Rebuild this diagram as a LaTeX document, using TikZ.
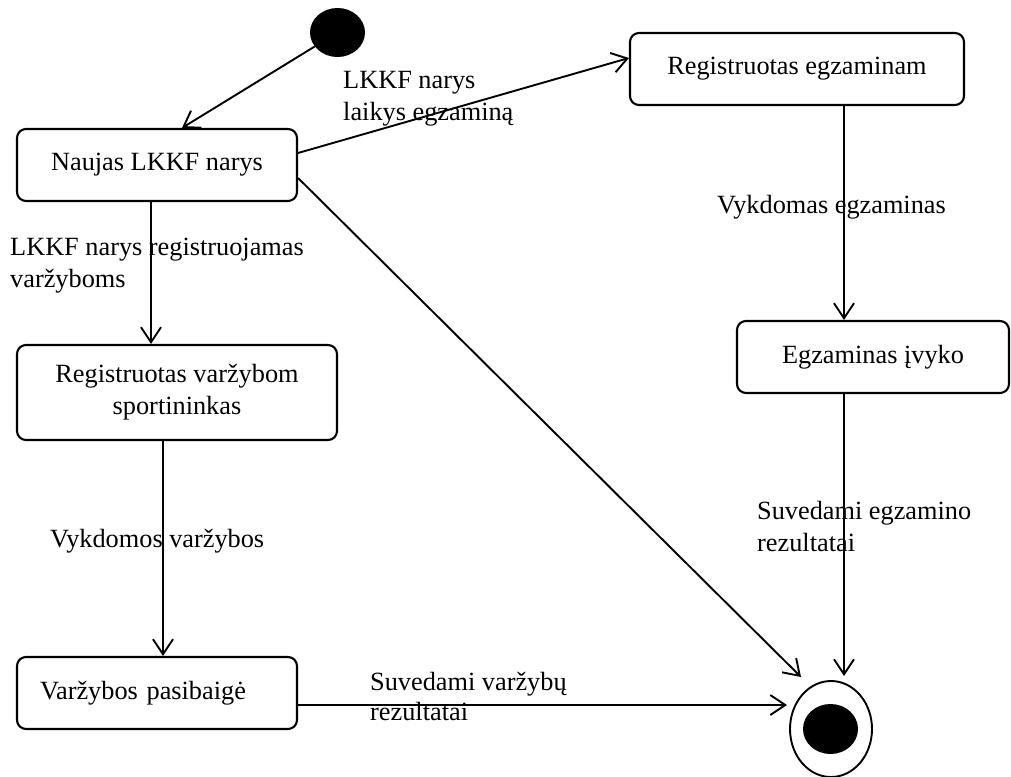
\documentclass[tikz,border=0pt]{standalone}
\usepackage{fontspec}
\setmainfont{Liberation Serif}
\usetikzlibrary{arrows.meta,shapes.geometric}
\begin{document}
\begin{tikzpicture}[x=1pt,y=-1pt,font=\fontsize{26.3}{32}\selectfont]
        \useasboundingbox (0,0) rectangle (1011,776);
        \begin{scope}
            \begin{scope}[every node/.style={ellipse,inner sep=0pt}]
              \node[fill=black,minimum width=55pt,minimum height=49pt] (start) at (337.5,32.5) {};
              \node[draw,line width=1.9pt,minimum width=82pt,minimum height=96pt] (final) at (831,729) {};
              \node[fill=black,minimum width=55pt,minimum height=50pt] (finalin) at (830.5,729) {};
            \end{scope}
            \begin{scope}[every node/.style={draw,rounded corners=9pt,line width=2.1pt,minimum height=72pt,align=center}]
              \node[minimum width=280pt] (naujas) at (157,165) {Naujas LKKF narys};
              \node[minimum width=334pt] (regegz) at (797,69) {Registruotas egzaminam};
              \node[minimum width=320pt,minimum height=95pt] (regvarz) at (177,392.5) {Registruotas varžybom\\sportininkas};
              \node[minimum width=272pt] (egzivyko) at (873,357) {Egzaminas įvyko};
              \node[text width=234pt,inner xsep=23pt,align=left] (pasibaige) at (157,693) {Varžybos pasibaigė};
            \end{scope}
            \coordinate (findiag) at (801,677);
            \coordinate (finvert) at (844,676);
            \coordinate (finhor) at (787,705);
            \begin{scope}[every edge/.style={draw=black,line width=1.9pt,-{Straight Barb[length=15pt,width=20pt]}}]
                \path (start) edge (naujas.north -| 182,0)
                      (naujas.east |- 0,153) edge (regegz.west |- 0,58)
                      (naujas.south -| 151,0) edge (regvarz.north -| 151,0)
                      (naujas.east |- 0,178) edge (findiag)
                      (regegz.south -| 844,0) edge (egzivyko.north -| 844,0)
                      (egzivyko.south -| 844,0) edge (finvert)
                      (regvarz.south -| 163,0) edge (pasibaige.north -| 163,0)
                      (pasibaige.east |- 0,705) edge (finhor);
            \end{scope}
            \begin{scope}[every node/.style={anchor=north west,inner sep=0pt,align=left,execute at begin node=\strut}]
                \node (lbexam) at (343,70.6) {LKKF narys\\laikys egzaminą};
                \node (lbcomp) at (10,237.6) {LKKF narys registruojamas\\varžyboms};
                \node (lbrunexam) at (717,190.6) {Vykdomas egzaminas};
                \node (lbruncomp) at (50,524.6) {Vykdomos varžybos};
                \node (lbresexam) at (757,500.6) {Suvedami egzamino\\rezultatai};
                \node[font=\fontsize{26.3}{30}\selectfont] (lbrescomp) at (370,672) {Suvedami varžybų\\rezultatai};
            \end{scope}
        \end{scope}
    \end{tikzpicture}
\end{document}
